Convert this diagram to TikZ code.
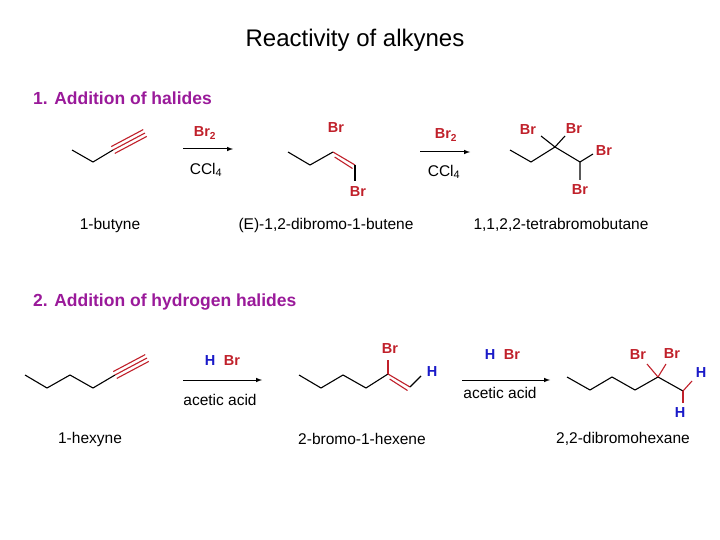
\documentclass[tikz,border=0pt]{standalone}
\usepackage{fontspec}
\setmainfont{Liberation Sans}
\definecolor{rd}{HTML}{C0202A}
\definecolor{bl}{HTML}{1A1AC8}
\definecolor{pu}{HTML}{9A1A9A}
\newcommand{\sbs}[1]{\textsubscript{#1}}
\begin{document}
\begin{tikzpicture}[x=1pt,y=-1pt,
  bd/.style={line width=1.1pt},
  rb/.style={line width=1.1pt,draw=rd},
  lab/.style={font=\fontsize{15.5}{18}\selectfont,inner sep=0pt},
  brl/.style={lab,text=rd,font=\fontsize{14.5}{17}\selectfont\bfseries},
  hl/.style={lab,text=bl,font=\fontsize{14.5}{17}\selectfont\bfseries},
  rx/.style={-latex,line width=1pt},
  head/.style={text=pu,font=\fontsize{17.5}{20}\selectfont\bfseries,anchor=west,inner sep=0pt}]
\useasboundingbox (0,0) rectangle (720,540);
\node[font=\fontsize{24}{28}\selectfont,inner sep=0pt] (title) at (355,40) {Reactivity of alkynes};
\node[head] (h1) at (33,98) {1. Addition of halides};
\node[head] (h2) at (33,302) {2. Addition of hydrogen halides};
% 1-butyne
\coordinate (a1) at (72,150); \coordinate (a2) at (93,162); \coordinate (a3) at (113,150); \coordinate (a4) at (145,133);
\draw[bd] (a1)--(a2)--(a3);
\draw[rb] (a3)--(a4);
\draw[rb] ([shift={(-1.8,-3.4)}]a3)--([shift={(-1.8,-3.4)}]a4);
\draw[rb] ([shift={(1.8,3.4)}]a3)--([shift={(1.8,3.4)}]a4);
\coordinate (r1s) at (183,149); \coordinate (r1e) at (233,149);
\draw[rx] (r1s)--(r1e);
\node[brl] (br2a) at (205,133) {Br\sbs{2}};
\node[lab] (ccl4a) at (206,170) {CCl\sbs{4}};
% dibromobutene
\coordinate (b1) at (288,152); \coordinate (b2) at (310,165); \coordinate (b3) at (333,152); \coordinate (b4) at (355,165); \coordinate (b5) at (355,181);
\draw[bd] (b1)--(b2)--(b3);
\draw[rb] (b3)--(b4);
\draw[rb] ([shift={(1.6,5)}]b3)--([shift={(-2.5,3.5)}]b4);
\draw[bd] (b4)--(b5);
\node[brl] (brb1) at (336,128) {Br};
\node[brl] (brb2) at (358,192) {Br};
\coordinate (r2s) at (420,152); \coordinate (r2e) at (470,152);
\draw[rx] (r2s)--(r2e);
\node[brl] (br2b) at (446,135) {Br\sbs{2}};
\node[lab] (ccl4b) at (444,172) {CCl\sbs{4}};
% tetrabromobutane
\coordinate (c1) at (510,150); \coordinate (c2) at (531,162); \coordinate (c3) at (555,147); \coordinate (c4) at (580,162);
\draw[bd] (c1)--(c2)--(c3)--(c4)--(580,180);
\draw[bd] (c3)--(541,136); \draw[bd] (c3)--(565,136); \draw[bd] (c4)--(593,154);
\node[brl] (brc1) at (528,130) {Br};
\node[brl] (brc2) at (574,129) {Br};
\node[brl] (brc3) at (604,151) {Br};
\node[brl] (brc4) at (580,190) {Br};
\node[lab] (n1) at (110,225) {1-butyne};
\node[lab] (n2) at (326,225) {(E)-1,2-dibromo-1-butene};
\node[lab] (n3) at (561,225) {1,1,2,2-tetrabromobutane};
% 1-hexyne
\coordinate (d1) at (25,375); \coordinate (d2) at (47,388); \coordinate (d3) at (70,375); \coordinate (d4) at (93,388); \coordinate (d5) at (115,375); \coordinate (d6) at (147,358);
\draw[bd] (d1)--(d2)--(d3)--(d4)--(d5);
\draw[rb] (d5)--(d6);
\draw[rb] ([shift={(-1.8,-3.4)}]d5)--([shift={(-1.8,-3.4)}]d6);
\draw[rb] ([shift={(1.8,3.4)}]d5)--([shift={(1.8,3.4)}]d6);
\coordinate (r3s) at (183,380); \coordinate (r3e) at (262,380);
\draw[rx] (r3s)--(r3e);
\node[hl] (h3) at (210,361) {H};
\node[brl] (br3) at (232,361) {Br};
\node[lab] (aa3) at (220,400) {acetic acid};
% 2-bromo-1-hexene
\coordinate (e1) at (299,375); \coordinate (e2) at (321,388); \coordinate (e3) at (343,375); \coordinate (e4) at (366,388); \coordinate (e5) at (388,374); \coordinate (e6) at (410,387);
\draw[bd] (e1)--(e2)--(e3)--(e4)--(e5);
\draw[rb] (e5)--(e6);
\draw[rb] ([shift={(1.6,5)}]e5)--([shift={(-2.5,3.5)}]e6);
\draw[rb] (e5)--(388,360);
\draw[bd] (e6)--(421,376);
\node[brl] (br4) at (390,349) {Br};
\node[hl] (h4) at (432,372) {H};
\coordinate (r4s) at (462,380); \coordinate (r4e) at (550,380);
\draw[rx] (r4s)--(r4e);
\node[hl] (h5) at (490,355) {H};
\node[brl] (br5) at (512,355) {Br};
\node[lab] (aa5) at (500,393) {acetic acid};
% 2,2-dibromohexane
\coordinate (f1) at (567,377); \coordinate (f2) at (590,390); \coordinate (f3) at (612,377); \coordinate (f4) at (635,390); \coordinate (f5) at (658,377); \coordinate (f6) at (683,391);
\draw[bd] (f1)--(f2)--(f3)--(f4)--(f5)--(f6);
\draw[rb] (f5)--(647,364); \draw[rb] (f5)--(666,364);
\draw[rb] (f6)--(692,381); \draw[rb] (f6)--(683,403);
\node[brl] (br6) at (638,355) {Br};
\node[brl] (br7) at (672,354) {Br};
\node[hl] (h6) at (701,373) {H};
\node[hl] (h7) at (680,413) {H};
\node[lab] (n4) at (90,439) {1-hexyne};
\node[lab] (n5) at (362,439) {2-bromo-1-hexene};
\node[lab] (n6) at (623,439) {2,2-dibromohexane};
\end{tikzpicture}
\end{document}
